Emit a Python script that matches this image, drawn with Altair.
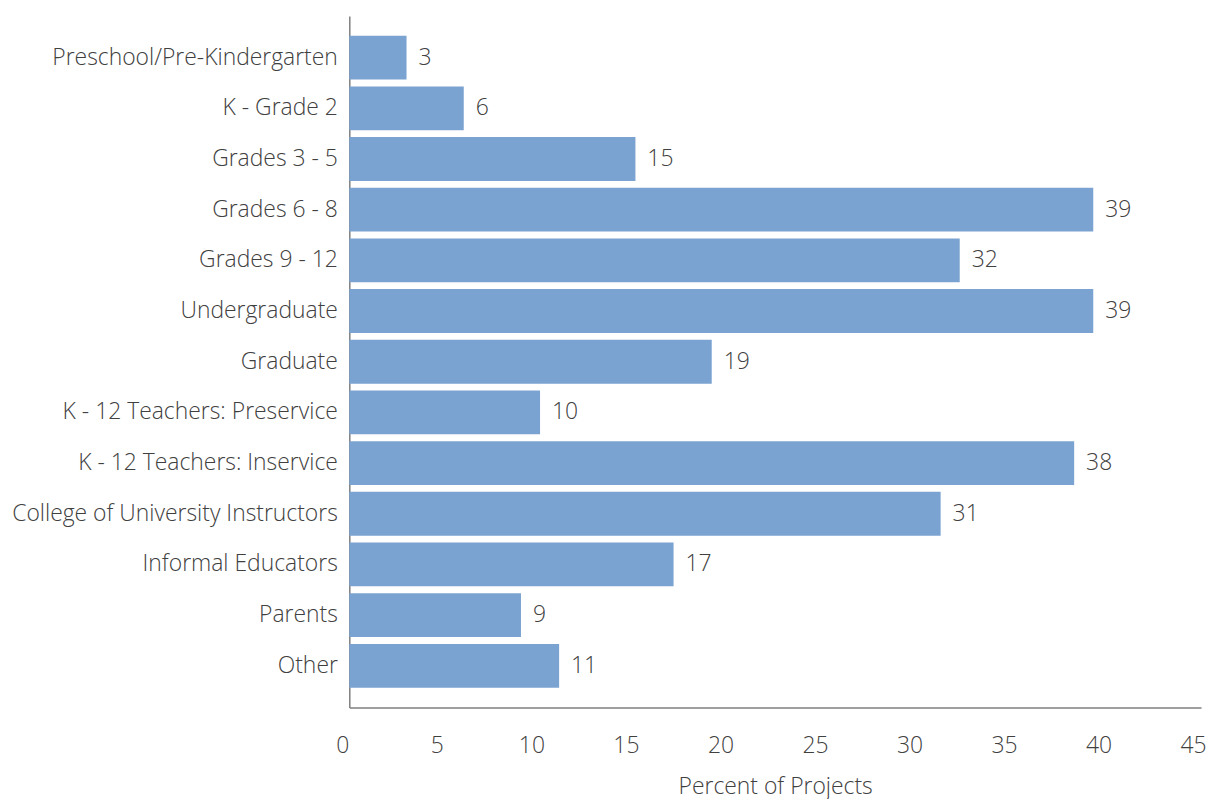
import altair as alt
import pandas as pd

categories = [
    "Preschool/Pre-Kindergarten", "K - Grade 2", "Grades 3 - 5", "Grades 6 - 8",
    "Grades 9 - 12", "Undergraduate", "Graduate", "K - 12 Teachers: Preservice",
    "K - 12 Teachers: Inservice", "College of University Instructors",
    "Informal Educators", "Parents", "Other",
]
values = [3, 6, 15, 39, 32, 39, 19, 10, 38, 31, 17, 9, 11]
tick_values = [0, 5, 10, 15, 20, 25, 30, 35, 40, 45]

df = pd.DataFrame({"category": categories, "value": values})
ticks_df = pd.DataFrame({"t": tick_values})

FONT = "Open Sans"
TXT = "#404040"
BAR = "#7BA3D1"
FS = 23
W = 856

bar_scale = alt.Scale(domain=[0, 44.65], nice=False)

y_enc = alt.Y(
    "category:N", sort=categories, title=None,
    scale=alt.Scale(paddingInner=0.135, paddingOuter=0.39),
    axis=alt.Axis(labelFont=FONT, labelFontSize=FS, labelFontWeight=300,
                  labelColor=TXT, ticks=False, labelPadding=12,
                  domainColor="#7f7f7f", domainWidth=1.5, labelLimit=500),
)

bars = alt.Chart(df).mark_bar(color=BAR).encode(
    x=alt.X("value:Q", scale=bar_scale, axis=None),
    y=y_enc,
)
labels = alt.Chart(df).mark_text(
    align="left", baseline="middle", dx=12, font=FONT, fontSize=FS,
    fontWeight=300, color=TXT,
).encode(
    x=alt.X("value:Q", scale=bar_scale, axis=None),
    y=alt.Y("category:N", sort=categories),
    text="value:Q",
)
data_layer = alt.layer(bars, labels)

axis_layer = alt.Chart(ticks_df).mark_point(opacity=0).encode(
    x=alt.X("t:Q", scale=alt.Scale(domain=[0, 45.05], nice=False),
            title="Percent of Projects",
            axis=alt.Axis(values=tick_values, labelFont=FONT, labelFontSize=FS,
                          labelFontWeight=300, labelColor=TXT, ticks=False,
                          labelPadding=27, labelOffset=-7, labelFlush=False,
                          labelOverlap=False, grid=False,
                          domainColor="#7f7f7f", domainWidth=1.5,
                          titleFont=FONT, titleFontSize=FS, titleFontWeight=300,
                          titleColor=TXT, titlePadding=18)),
)

chart = alt.layer(data_layer, axis_layer).resolve_scale(x="independent").properties(
    width=W, height=695
).configure(
    padding={"left": 3, "top": 6, "right": 0, "bottom": 0}
).configure_view(stroke=None)

chart.save("out.html", embed_options={"renderer": "svg", "actions": False})
